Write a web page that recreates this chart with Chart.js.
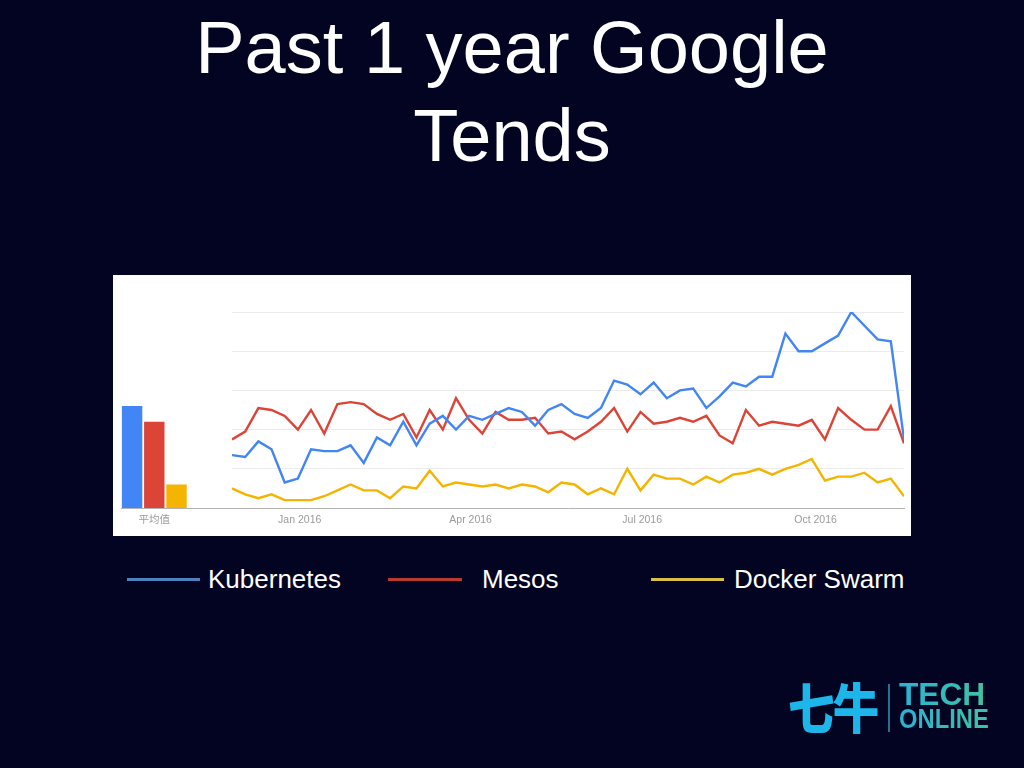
<!DOCTYPE html>
<html>
<head>
<meta charset="utf-8">
<title>Past 1 year Google Tends</title>
<script src="https://cdn.jsdelivr.net/npm/chart.js@4.4.0/dist/chart.umd.min.js"></script>
<style>
  html, body { margin: 0; padding: 0; }
  body {
    width: 1024px; height: 768px; overflow: hidden; position: relative;
    background: #020421;
    font-family: "Liberation Sans", Arial, sans-serif;
  }
  #title {
    position: absolute; left: 0; top: 4px; width: 1024px;
    text-align: center; color: #fff; font-size: 74px; line-height: 88px;
  }
  #panel { position: absolute; left: 113px; top: 275px; width: 798px; height: 261px; background: #fff; }
  #barWrap { position: absolute; left: 0; top: 0; width: 119px; height: 261px; }
  #lineWrap { position: absolute; left: 112px; top: 0; width: 686px; height: 261px; }
  .legLine { position: absolute; top: 578px; height: 3px; }
  .legText { position: absolute; top: 564px; color: #fff; font-size: 26px; line-height: 30px; white-space: nowrap; }
  #logoCn {
    position: absolute; left: 788px; top: 676px; font-family: "Noto Sans CJK SC", sans-serif;
    font-weight: 900; font-size: 54px; line-height: 60px; color: #1cb6ea;
    transform: scaleX(0.86); transform-origin: left center; letter-spacing: -2px;
  }
  #logoSep { position: absolute; left: 888px; top: 684px; width: 2px; height: 48px; background: #27708e; }
  .logoEn {
    position: absolute; left: 899px; font-weight: bold; white-space: nowrap;
    background: linear-gradient(90deg, #2ab2d6, #3fc2a2); -webkit-background-clip: text; background-clip: text; color: transparent;
    transform-origin: left center;
  }
  #logoTech { top: 679px; font-size: 31px; line-height: 31px; transform: scaleX(1.02); }
  #logoOnline { top: 706px; font-size: 27px; line-height: 27px; transform: scaleX(0.88); }
</style>
</head>
<body>
<div id="title">Past 1 year Google<br>Tends</div>

<div id="panel">
  <div id="barWrap"><canvas id="barChart" width="119" height="261"></canvas></div>
  <div id="lineWrap"><canvas id="lineChart" width="686" height="261"></canvas></div>
</div>

<div id="legend"></div>

<div id="logoCn">七牛</div>
<div id="logoSep"></div>
<div id="logoTech" class="logoEn">TECH</div>
<div id="logoOnline" class="logoEn">ONLINE</div>

<script>
// Weekly interest, past 12 months (Google Trends, 0-100)
const kubernetes = [27, 26, 34, 30, 13, 15, 30, 29, 29, 32, 23, 36, 32, 44,
  32, 43, 47, 40, 47, 45, 48, 51, 49, 42, 50, 53, 48,
  46, 51, 65, 63, 58, 64, 56, 60, 61, 51, 57, 64,
  62, 67, 67, 89, 80, 80, 84, 88, 100, 93, 86, 85, 35];
const mesos = [35, 39, 51, 50, 47, 40, 50, 38, 53, 54, 53, 48, 45, 48,
  36, 50, 40, 56, 45, 38, 49, 45, 45, 46, 38, 39, 35,
  39, 44, 51, 39, 49, 43, 44, 46, 44, 47, 37, 33,
  50, 42, 44, 43, 42, 45, 35, 51, 45, 40, 40, 52, 33];
const dockerSwarm = [10, 7, 5, 7, 4, 4, 4, 6, 9, 12, 9, 9, 5, 11,
  10, 19, 11, 13, 12, 11, 12, 10, 12, 11, 8, 13, 12,
  7, 10, 7, 20, 9, 17, 15, 15, 12, 16, 13, 17,
  18, 20, 17, 20, 22, 25, 14, 16, 16, 18, 13, 15, 6];

const seriesNames = ["Kubernetes", "Mesos", "Docker Swarm"];
const averages = [52, 44, 12];
const averageLabel = "平均值";

// month ticks, placed in weeks from the first data point
const tickLabels = ["Jan 2016", "Apr 2016", "Jul 2016", "Oct 2016"];
const tickWeeks = [5.14, 18.11, 31.13, 44.29];

const lineColors = ["#4285f4", "#db4437", "#f4b400"];
const legendColors = ["#4f81bd", "#b83a2e", "#d6c046"];

const tickFont = { size: 10.5, family: '"Liberation Sans", "Noto Sans CJK SC", sans-serif' };
const tickColor = "#9a9a9a";
const axisColor = "#b4b4b4";

function toPoints(values) {
  return values.map((v, i) => ({ x: i, y: v }));
}

//Line chart with the weekly data
const allSeries = [kubernetes, mesos, dockerSwarm];
new Chart(document.getElementById("lineChart"), {
  type: "line",
  data: {
    datasets: allSeries.map((values, k) => ({
      label: seriesNames[k],
      data: toPoints(values),
      borderColor: lineColors[k],
      borderWidth: 2.4,
      pointRadius: 0,
      tension: 0,
      fill: false,
    })),
  },
  options: {
    responsive: false,
    animation: false,
    layout: { padding: { top: 37, left: 7, right: 7, bottom: 0 } },
    plugins: { legend: { display: false }, tooltip: { enabled: false } },
    scales: {
      x: {
        type: "linear",
        min: 0,
        max: kubernetes.length - 1,
        grid: { display: false, drawTicks: false },
        border: { display: true, color: axisColor, width: 1 },
        afterBuildTicks: (scale) => {
          scale.ticks = tickWeeks.map((v) => ({ value: v }));
        },
        ticks: {
          autoSkip: false,
          maxRotation: 0,
          padding: 6,
          color: tickColor,
          font: tickFont,
          callback: (value, index) => tickLabels[index],
        },
        afterFit: (scale) => { scale.height = 28; },
      },
      y: {
        min: 0,
        max: 100,
        ticks: { display: false, stepSize: 20 },
        grid: { color: "#ececec", drawTicks: false },
        border: { display: false },
        afterFit: (scale) => { scale.width = 0; },
      },
    },
  },
});

//Bar chart with the averages, two empty slots keep the bars on the left
const barSlots = seriesNames.concat(["", ""]);
new Chart(document.getElementById("barChart"), {
  type: "bar",
  data: {
    labels: barSlots,
    datasets: [{
      data: averages,
      backgroundColor: lineColors,
      barPercentage: 0.92,
      categoryPercentage: 1,
    }],
  },
  options: {
    responsive: false,
    animation: false,
    layout: { padding: { top: 37, left: 8, right: 0, bottom: 0 } },
    plugins: { legend: { display: false }, tooltip: { enabled: false } },
    scales: {
      x: {
        grid: { display: false, drawTicks: false },
        border: { display: true, color: axisColor, width: 1 },
        ticks: {
          autoSkip: false,
          maxRotation: 0,
          padding: 6,
          color: tickColor,
          font: tickFont,
          callback: (value, index) => (index === 1 ? averageLabel : ""),
        },
        afterFit: (scale) => { scale.height = 28; },
      },
      y: {
        min: 0,
        max: 100,
        ticks: { display: false },
        grid: { display: false },
        border: { display: false },
        afterFit: (scale) => { scale.width = 0; },
      },
    },
  },
});

//Legend under the panel
const legendSpots = [
  { line: 127, width: 73, text: 208 },
  { line: 388, width: 74, text: 482 },
  { line: 651, width: 73, text: 734 },
];
const legend = document.getElementById("legend");
seriesNames.forEach((name, k) => {
  const line = document.createElement("div");
  line.className = "legLine";
  line.style.left = legendSpots[k].line + "px";
  line.style.width = legendSpots[k].width + "px";
  line.style.background = legendColors[k];
  legend.appendChild(line);

  const text = document.createElement("div");
  text.className = "legText";
  text.style.left = legendSpots[k].text + "px";
  text.textContent = name;
  legend.appendChild(text);
});
</script>
</body>
</html>
